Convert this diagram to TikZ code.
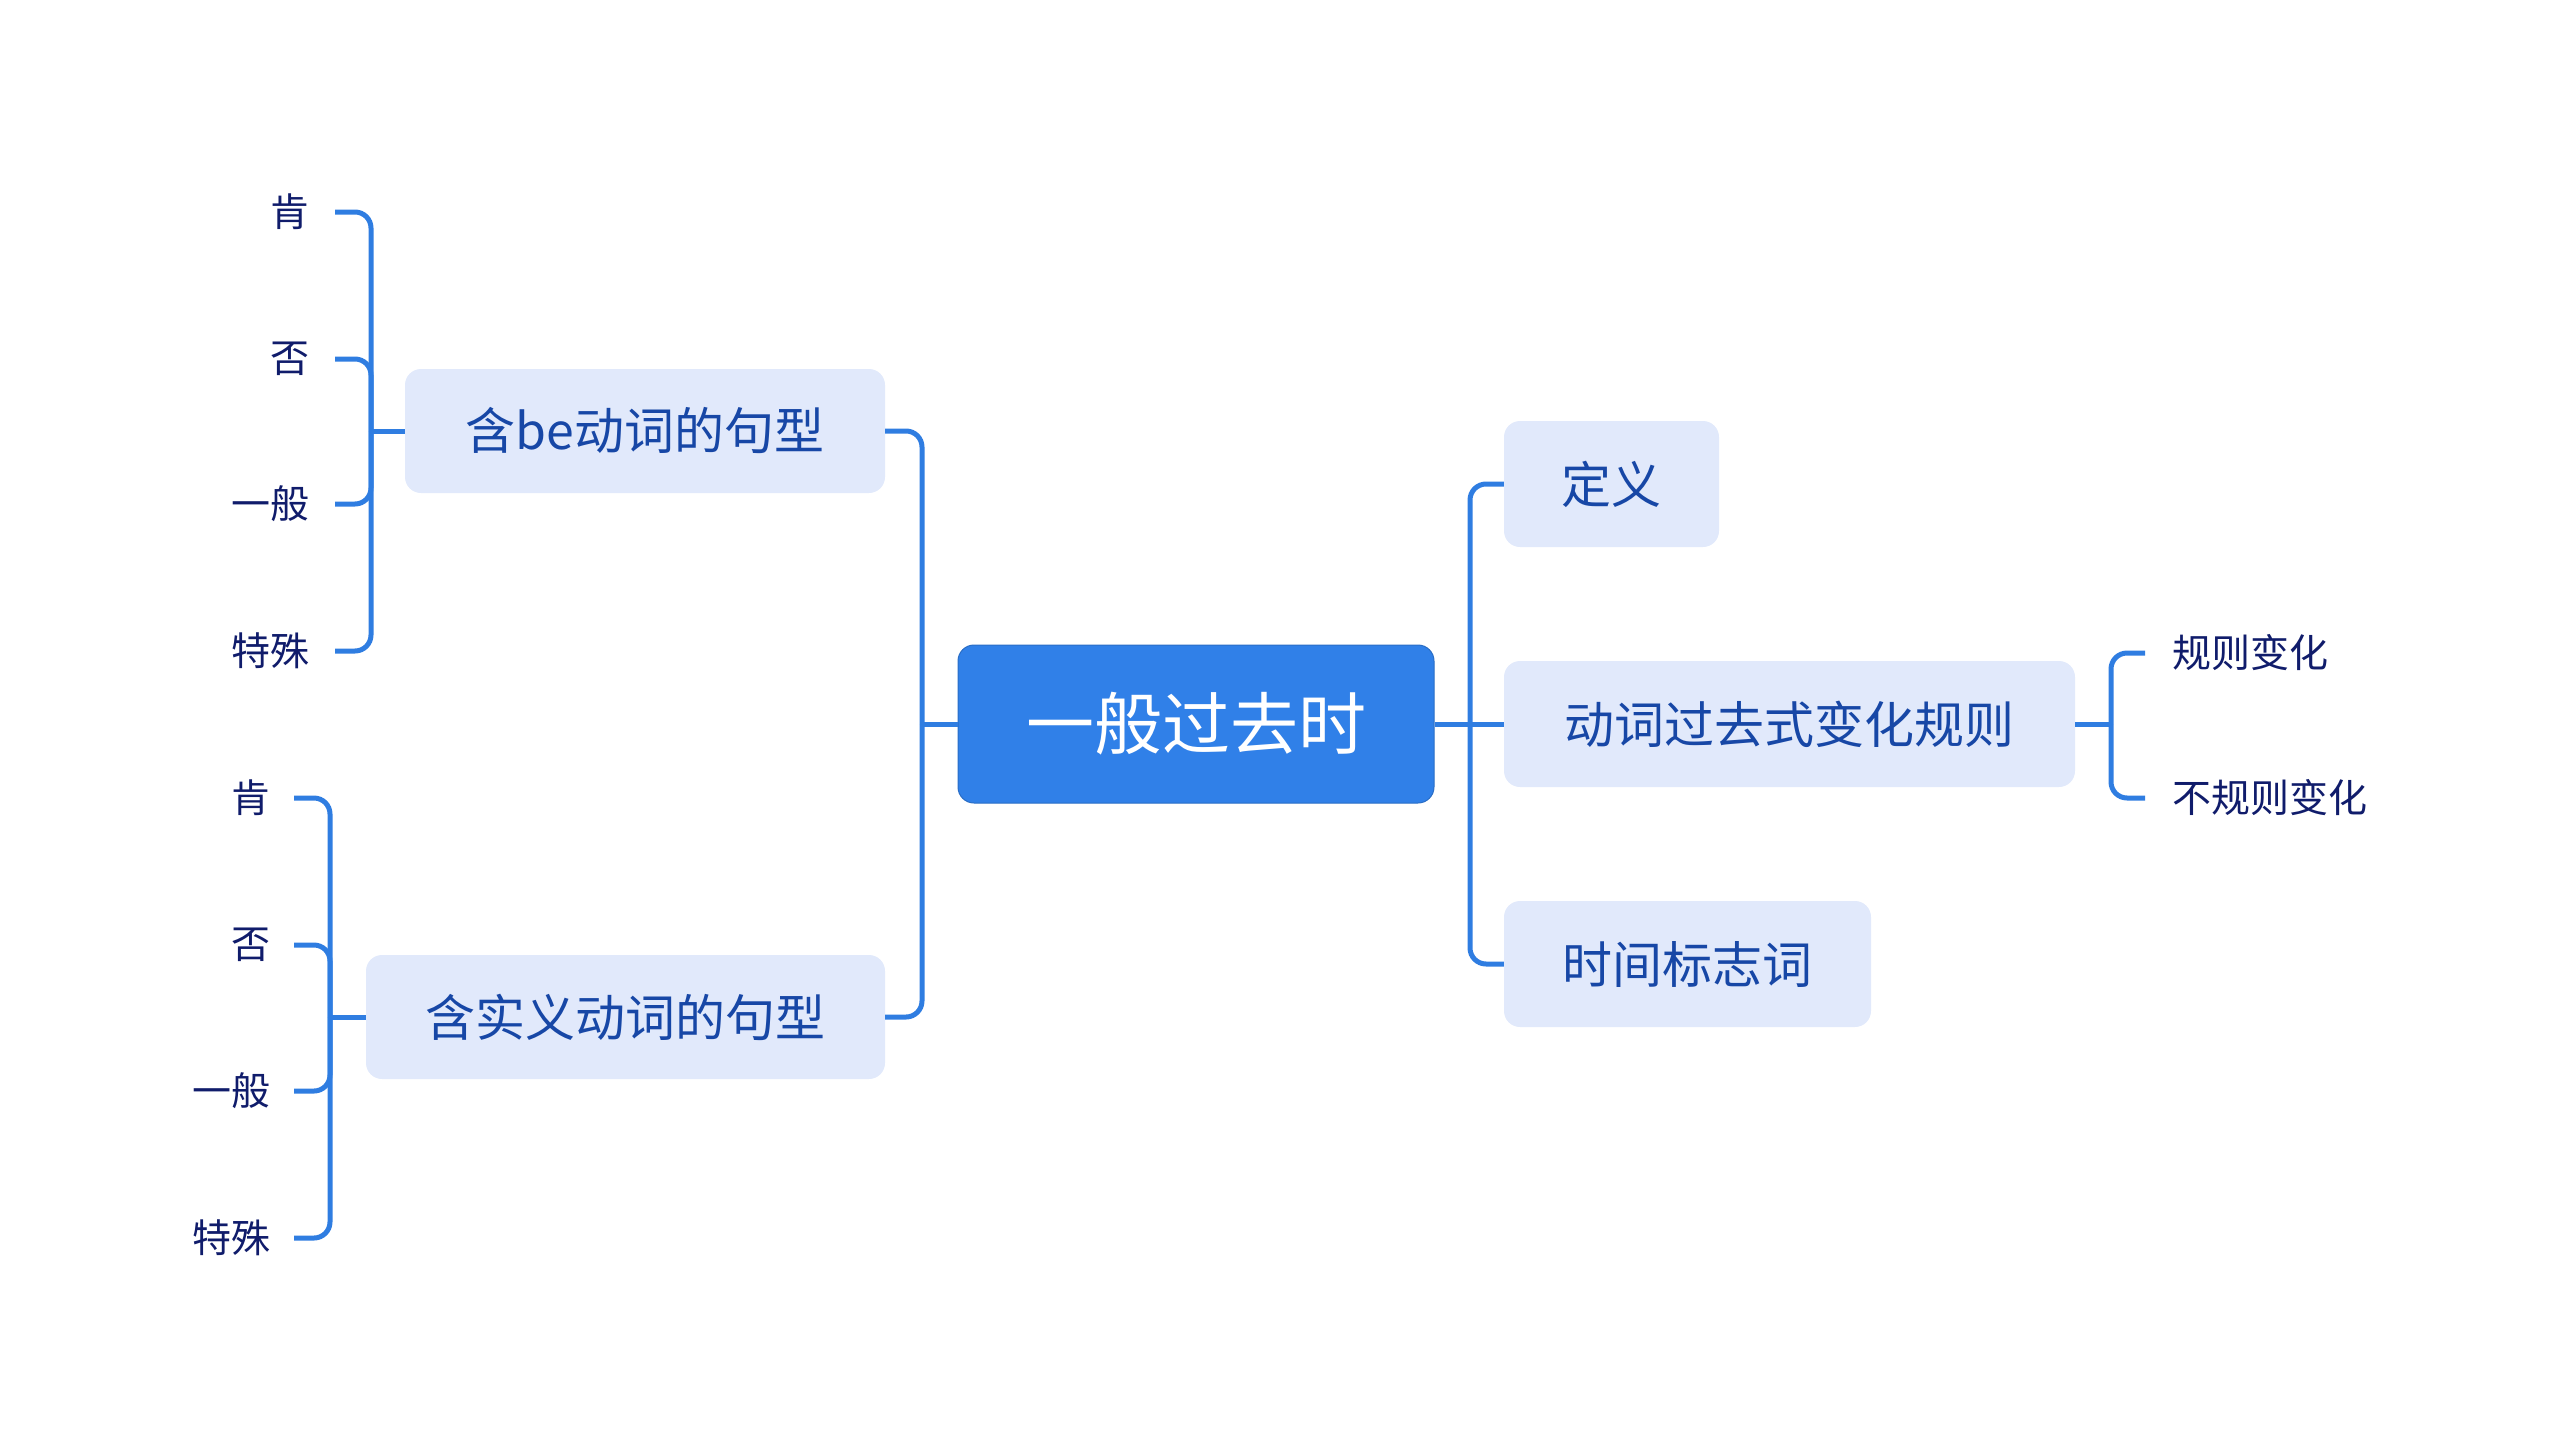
\documentclass[tikz,border=0pt]{standalone}
\usepackage{fontspec}
\setmainfont{Noto Sans CJK SC}
\definecolor{linec}{HTML}{2F7DE1}
\definecolor{rootc}{HTML}{3080E8}
\definecolor{boxc}{HTML}{E1E9FB}
\definecolor{boxt}{HTML}{1747A6}
\definecolor{leaft}{HTML}{101C6B}
\tikzset{
  rootbox/.style={fill=rootc, draw=rootc!85!black, line width=1pt, rounded corners=16pt, inner sep=0pt, text=white, font=\fontsize{68}{80}\selectfont},
  subbox/.style={fill=boxc, rounded corners=16pt, inner sep=0pt, text=boxt, font=\fontsize{50}{60}\selectfont},
  leaf/.style={inner sep=0pt, text=leaft, font=\fontsize{39}{46}\selectfont},
  conn/.style={draw=linec, line width=5pt, rounded corners=16pt}
}
\begin{document}
\begin{tikzpicture}[x=1pt,y=-1pt]
\useasboundingbox (0,0) rectangle (2560,1449);
% root
\node[rootbox, minimum width=476pt, minimum height=158pt] (root) at (1196,724) {一般过去时};
% left boxes
\node[subbox, minimum width=480pt, minimum height=124pt] (b1) at (645,431) {含be动词的句型};
\node[subbox, minimum width=519pt, minimum height=124pt] (b2) at (625.5,1017) {含实义动词的句型};
% right boxes
\node[subbox, minimum width=215pt, minimum height=126pt] (r1) at (1611.5,484) {定义};
\node[subbox, minimum width=571pt, minimum height=126pt] (r2) at (1789.5,724) {动词过去式变化规则};
\node[subbox, minimum width=367pt, minimum height=126pt] (r3) at (1687.5,964) {时间标志词};
% leaves upper-left
\node[leaf, anchor=east] (a1) at (310,212) {肯};
\node[leaf, anchor=east] (a2) at (310,359) {否};
\node[leaf, anchor=east] (a3) at (310,504) {一般};
\node[leaf, anchor=east] (a4) at (310,651) {特殊};
% leaves lower-left
\node[leaf, anchor=east] (c1) at (271,798) {肯};
\node[leaf, anchor=east] (c2) at (271,945) {否};
\node[leaf, anchor=east] (c3) at (271,1091) {一般};
\node[leaf, anchor=east] (c4) at (271,1238) {特殊};
% leaves right
\node[leaf, anchor=west] (d1) at (2172,653) {规则变化};
\node[leaf, anchor=west] (d2) at (2172,798) {不规则变化};
% junction coordinates
\coordinate (lv) at (922,724);
\coordinate (rv) at (1470,724);
\coordinate (ja) at (371,431);
\coordinate (jc) at (330,1017);
\coordinate (jd) at (2111,724);
% root to left boxes
\draw[conn] (root.west) -- (lv);
\draw[conn] (lv) -- (lv |- b1.east) -- (b1.east);
\draw[conn] (lv) -- (lv |- b2.east) -- (b2.east);
% root to right boxes
\draw[conn] (root.east) -- (rv);
\draw[conn] (rv) -- (rv |- r1.west) -- (r1.west);
\draw[conn] (rv) -- (r2.west);
\draw[conn] (rv) -- (rv |- r3.west) -- (r3.west);
% upper-left leaves
\draw[conn] (b1.west) -- (ja);
\foreach \n in {a1,a2,a3,a4}{
  \draw[conn] (ja) -- (ja |- \n.east) -- ([xshift=25pt]\n.east);
}
% lower-left leaves
\draw[conn] (b2.west) -- (jc);
\foreach \n in {c1,c2,c3,c4}{
  \draw[conn] (jc) -- (jc |- \n.east) -- ([xshift=23pt]\n.east);
}
% right leaves
\draw[conn] (r2.east) -- (jd);
\foreach \n in {d1,d2}{
  \draw[conn] (jd) -- (jd |- \n.west) -- ([xshift=-27pt]\n.west);
}
\end{tikzpicture}
\end{document}
